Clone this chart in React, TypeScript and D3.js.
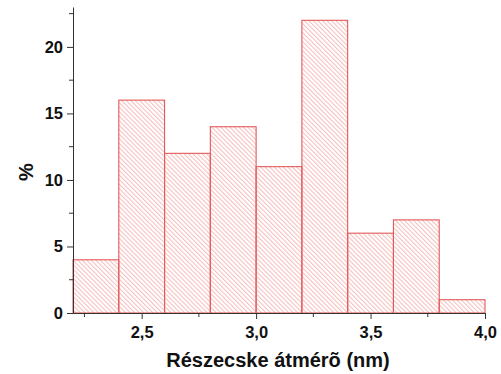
import React, { useEffect, useRef } from 'react';
import * as d3 from 'd3';

// bin edges (nm) and share of particles (%)
const binStarts = [2.2, 2.4, 2.6, 2.8, 3.0, 3.2, 3.4, 3.6, 3.8];
const binWidth = 0.2;
const percents = [4, 16, 12, 14, 11, 22, 6, 7, 1];
const xTicks = [2.5, 3.0, 3.5, 4.0];
const yTicks = [0, 5, 10, 15, 20];

const App: React.FC = () => {
  const svgRef = useRef<SVGSVGElement>(null);
  const width = 501;
  const height = 374;

  useEffect(() => {
    document.body.style.margin = '0';
    if (!svgRef.current) return;
    const svg = d3.select(svgRef.current);
    svg.selectAll('*').remove();

    const x = d3.scaleLinear().domain([2.2, 4.0]).range([73, 485]);
    const y = d3.scaleLinear().domain([0, 23.0]).range([313, 7]);

    // hatch pattern
    const defs = svg.append('defs');
    const pat = defs.append('pattern')
      .attr('id', 'hatch')
      .attr('patternUnits', 'userSpaceOnUse')
      .attr('width', 8)
      .attr('height', 3.2)
      .attr('patternTransform', 'rotate(45)');
    pat.append('line')
      .attr('x1', 0).attr('x2', 8)
      .attr('y1', 1).attr('y2', 1)
      .attr('stroke', '#f0a0a0')
      .attr('stroke-width', 0.8);

    const bins = binStarts.map((s, i) => ({ s, v: percents[i] }));

    svg.append('g').selectAll('rect')
      .data(bins)
      .enter()
      .append('rect')
      .attr('x', d => x(d.s))
      .attr('y', d => y(d.v))
      .attr('width', d => x(d.s + binWidth) - x(d.s))
      .attr('height', d => y(0) - y(d.v))
      .attr('fill', 'url(#hatch)')
      .attr('stroke', '#e35a5a')
      .attr('stroke-width', 1.1);

    const font = 'Liberation Sans, Arial, sans-serif';

    // x axis
    const xAxis = svg.append('g').attr('transform', `translate(0,${y(0)})`);
    xAxis.call(
      d3.axisBottom(x).tickValues(xTicks).tickFormat(d => (d as number).toFixed(1).replace('.', ','))
        .tickSizeInner(6).tickSizeOuter(0).tickPadding(7)
    );
    xAxis.append('g').selectAll('line')
      .data([2.25, 2.75, 3.25, 3.75])
      .enter().append('line')
      .attr('x1', d => x(d)).attr('x2', d => x(d))
      .attr('y1', 0).attr('y2', 4)
      .attr('stroke', '#333');

    // y axis
    const yAxis = svg.append('g').attr('transform', `translate(${x(2.2)},0)`);
    yAxis.call(
      d3.axisLeft(y).tickValues(yTicks).tickFormat(d => `${d}`)
        .tickSizeInner(6).tickSizeOuter(0).tickPadding(4)
    );
    yAxis.append('g').selectAll('line')
      .data([2.5, 7.5, 12.5, 17.5, 22.5])
      .enter().append('line')
      .attr('x1', 0).attr('x2', -4)
      .attr('y1', d => y(d)).attr('y2', d => y(d))
      .attr('stroke', '#333');

    svg.selectAll('.domain, .tick line').attr('stroke', '#333').attr('stroke-width', 1);
    svg.selectAll('.tick text')
      .attr('fill', '#111')
      .style('font-family', font)
      .style('font-size', '16.5px')
      .style('font-weight', 'bold');

    // axis titles
    svg.append('text')
      .attr('x', 278)
      .attr('y', 367)
      .attr('text-anchor', 'middle')
      .style('font-family', font)
      .style('font-size', '20px')
      .style('font-weight', 'bold')
      .attr('fill', '#111')
      .text('Részecske átmérõ (nm)');

    svg.append('text')
      .attr('transform', 'translate(33,172) rotate(-90)')
      .attr('text-anchor', 'middle')
      .style('font-family', font)
      .style('font-size', '20px')
      .style('font-weight', 'bold')
      .attr('fill', '#111')
      .text('%');
  }, []);

  return (
    <svg ref={svgRef} width={width} height={height} style={{ display: 'block', background: '#fff' }} />
  );
};

export default App;
